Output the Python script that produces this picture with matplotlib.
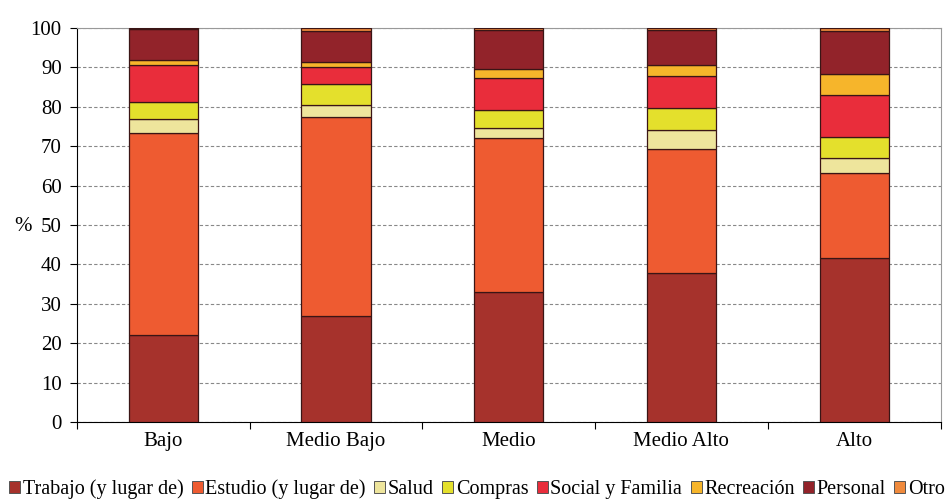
import numpy as np
import matplotlib.pyplot as plt
from matplotlib.patches import Patch

plt.rcParams['font.family'] = ['Liberation Serif', 'DejaVu Serif']

niveles = ["Bajo", "Medio Bajo", "Medio", "Medio Alto", "Alto"]
motivos = ["Trabajo (y lugar de)", "Estudio (y lugar de)", "Salud", "Compras",
           "Social y Familia", "Recreación", "Personal", "Otro"]

trabajo = [22.1, 26.8, 33.0, 37.8, 41.6]
estudio = [51.3, 50.5, 39.0, 31.5, 21.6]
salud = [3.5, 3.1, 2.5, 4.8, 3.8]
compras = [4.2, 5.3, 4.8, 5.7, 5.4]
social = [9.4, 4.3, 8.0, 8.0, 10.6]
recreacion = [1.3, 1.4, 2.4, 2.7, 5.4]
personal = [7.9, 7.9, 9.7, 8.9, 10.9]
otro = [0.3, 0.6, 0.6, 0.6, 0.7]

colores = ["#A6322C", "#EE5B31", "#EEE59C", "#E4E02C", "#E92D3B",
           "#F6B52B", "#92232A", "#F08A3C"]

series = [trabajo, estudio, salud, compras, social, recreacion, personal, otro]

fig = plt.figure(figsize=(9.5, 5), dpi=100)
ax = fig.add_axes([0.081, 0.156, 0.909, 0.788])

x = np.arange(len(niveles))
base = np.zeros(len(niveles))
for vals, col in zip(series, colores):
    ax.bar(x, vals, width=0.4, bottom=base, color=col, edgecolor="#3a1515",
           linewidth=0.9, zorder=3)
    base += np.array(vals)

ax.set_xlim(-0.5, len(niveles) - 0.5)
ax.set_ylim(0, 100)
ax.set_yticks(np.arange(0, 101, 10))
ax.set_xticks(x)
ax.set_xticklabels(niveles, fontsize=15)
ax.set_xticks(np.arange(-0.5, len(niveles), 1), minor=True)
ax.tick_params(axis="x", which="major", length=0, pad=7)
ax.tick_params(axis="x", which="minor", length=5, direction="out", width=0.8)
ax.tick_params(axis="y", labelsize=15, length=5, width=0.8, pad=6)

ax.yaxis.grid(True, linestyle=(0, (3, 2)), color="#888888", linewidth=0.8, zorder=0)
ax.spines["left"].set_color("black")
ax.spines["bottom"].set_color("black")
ax.spines["top"].set_color("#999999")
ax.spines["right"].set_color("#999999")

ax.set_ylabel("%", rotation=0, fontsize=15, ha="right", va="center")
ax.yaxis.set_label_coords(-0.052, 0.495)

handles = [Patch(facecolor=c, edgecolor="#555555", linewidth=0.7) for c in colores]
fig.legend(handles, motivos, loc="lower left", bbox_to_anchor=(-0.003, -0.022),
           ncol=8, frameon=False, fontsize=14.5, handlelength=0.55,
           handleheight=0.55, handletextpad=0.12, columnspacing=0.42,
           borderaxespad=0.2)

fig.savefig("out.png", dpi=100)
